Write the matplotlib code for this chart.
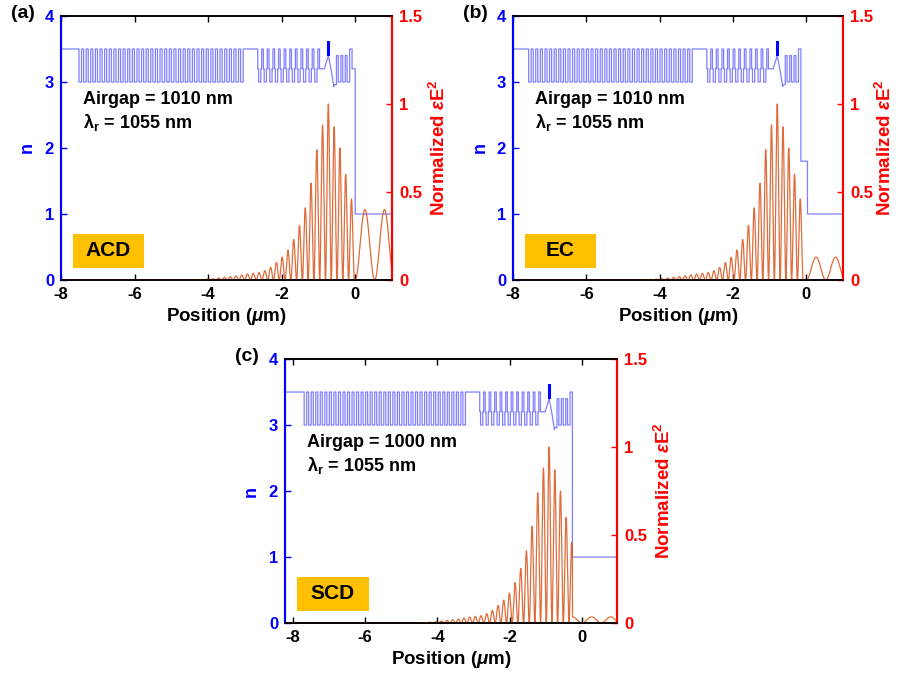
import numpy as np
import matplotlib
matplotlib.use("Agg")
import matplotlib.pyplot as plt
from matplotlib.patches import Rectangle

plt.rcParams['font.family'] = ['Liberation Sans', 'DejaVu Sans']
plt.rcParams['font.weight'] = 'bold'
plt.rcParams['axes.labelweight'] = 'bold'
plt.rcParams['axes.unicode_minus'] = False
plt.rcParams['mathtext.fontset'] = 'custom'
plt.rcParams['mathtext.rm'] = 'Liberation Sans:bold'
plt.rcParams['mathtext.bf'] = 'Liberation Sans:bold'
plt.rcParams['mathtext.it'] = 'Liberation Sans:italic'

# panel info
panel_names = ['(a)', '(b)', '(c)']
box_labels = ['ACD', 'EC', 'SCD']
airgaps = [1010, 1010, 1000]
lambda_r = 1055
x_limits = [(-8, 1), (-8, 1), (-8.22, 0.97)]
shifts = [0.0, -0.065, -0.18]          # structure offset vs panel (a), um

# refractive index structure of panel (a), positions in um
n_sub = 3.5
bottom_dbr = (-7.51, -2.99)
bottom_pairs = 36
bottom_n = [3.0, 3.5]
bottom_frac = [0.55, 0.45]
graded_dbr = (-2.65, -0.97)
graded_pairs = 11
graded_n = [3.2, 3.0, 3.2, 3.5]
graded_frac = [0.15, 0.4, 0.15, 0.3]
# (start, end, n_start, n_end)
upper_layers = [(-0.97, -0.84, 3.2, 3.2), (-0.84, -0.73, 3.2, 3.4), (-0.73, -0.66, 3.4, 3.2),
                (-0.66, -0.58, 3.2, 2.93), (-0.58, -0.51, 2.96, 2.96),
                (-0.51, -0.46, 3.4, 3.4), (-0.46, -0.39, 3.0, 3.0),
                (-0.39, -0.34, 3.4, 3.4), (-0.34, -0.27, 3.0, 3.0),
                (-0.27, -0.22, 3.4, 3.4), (-0.22, -0.15, 3.0, 3.0),
                (-0.15, -0.085, 3.5, 3.5)]
cap_layers = [[(-0.085, 0.0, 3.2, 3.2)], [(-0.085, 0.095, 1.8, 1.8)], []]
n_air = 1.0
qw_pos = -0.73
qw_n = (3.42, 3.6)

# normalized eps*E^2, peak heights from the cavity peak (k=0) outward
fringe_period = 0.157
peaks_out = [0.87, 0.75, 0.60, 0.46]                        # toward surface
peaks_in = [0.88, 0.74, 0.55, 0.41, 0.31, 0.23, 0.17, 0.13, 0.10, 0.072,
            0.053, 0.042, 0.038, 0.034, 0.028, 0.023, 0.019, 0.015, 0.011,
            0.007, 0.005, 0.003, 0.002, 0.001]              # into the DBR
air_amp = [0.40, 0.13, 0.035]
air_period = 0.53
field_end = [0.0, 0.095, -0.085]


def index_profile(shift, xl, caps):
    xs, ns = [], []

    def add(a, b, n1, n2):
        xs.extend([a + shift, b + shift])
        ns.extend([n1, n2])

    add(xl[0] - shift, bottom_dbr[0], n_sub, n_sub)
    p = (bottom_dbr[1] - bottom_dbr[0]) / bottom_pairs
    s = bottom_dbr[0]
    for i in range(bottom_pairs):
        for n, f in zip(bottom_n, bottom_frac):
            add(s, s + f * p, n, n)
            s += f * p
    add(bottom_dbr[1], graded_dbr[0], n_sub, n_sub)
    p = (graded_dbr[1] - graded_dbr[0]) / graded_pairs
    s = graded_dbr[0]
    for i in range(graded_pairs):
        for n, f in zip(graded_n, graded_frac):
            add(s, s + f * p, n, n)
            s += f * p
    for a, b, n1, n2 in upper_layers + caps:
        add(a, b, n1, n2)
    add(xs[-1] - shift, xl[1] - shift, n_air, n_air)
    return np.array(xs), np.array(ns)


def field_profile(x, shift, amp, end):
    xc = qw_pos + shift
    heights = [1.0] + peaks_out
    ks = list(range(len(heights)))
    heights += peaks_in
    ks += [-(i + 1) for i in range(len(peaks_in))]
    y = np.zeros_like(x)
    for k, h in zip(ks, heights):
        c = xc + k * fringe_period
        m = np.abs(x - c) < fringe_period / 2
        y[m] += h * np.cos(np.pi * (x[m] - c) / fringe_period) ** 2
    out = x > end + shift
    y[out] = amp * np.sin(np.pi * x[out] / air_period) ** 2
    return y


fig = plt.figure(figsize=(8.98, 6.75), dpi=100)
axes_pos = [[0.0679, 0.5852, 0.3686, 0.3911],
            [0.5713, 0.5852, 0.3675, 0.3911],
            [0.3174, 0.0770, 0.3697, 0.3911]]
right_label_x = [1.112, 1.097, 1.112]

for i in range(3):
    ax = fig.add_axes(axes_pos[i])
    ax2 = ax.twinx()
    xl = x_limits[i]

    xs, ns = index_profile(shifts[i], xl, cap_layers[i])
    ax.plot(xs, ns, color='#8080ff', lw=0.9, zorder=2)
    ax.plot([qw_pos + shifts[i]] * 2, qw_n, color='#0000ff', lw=2.2, zorder=3)

    x = np.linspace(xl[0], xl[1], 20000)
    ax2.plot(x, field_profile(x, shifts[i], air_amp[i], field_end[i]),
             color='#d95319', lw=0.9, alpha=0.85)

    ax.set_xlim(xl)
    ax.set_ylim(0, 4)
    ax2.set_ylim(0, 1.5)
    ax.set_xticks([-8, -6, -4, -2, 0])
    ax.set_yticks([0, 1, 2, 3, 4])
    ax2.set_yticks([0, 0.5, 1, 1.5])
    ax2.set_yticklabels(['0', '0.5', '1', '1.5'])

    ax.tick_params(axis='x', direction='in', top=True, length=4, width=1,
                   labelsize=12, pad=5, colors='black')
    ax.tick_params(axis='y', direction='in', length=4, width=1, labelsize=12,
                   pad=5, colors='blue')
    ax2.tick_params(axis='y', direction='in', length=4, width=1, labelsize=12,
                    pad=5, colors='red')
    for a in (ax, ax2):
        a.spines['left'].set_color('blue')
        a.spines['right'].set_color('red')
        a.spines['left'].set_linewidth(1.5)
        a.spines['right'].set_linewidth(1.5)
        a.spines['top'].set_linewidth(1.2)
        a.spines['bottom'].set_linewidth(1.2)

    ax.set_xlabel(r'Position ($\mu$m)', fontsize=13.5, labelpad=3)
    ax.set_ylabel('n', color='blue', fontsize=13)
    ax.yaxis.set_label_coords(-0.075, 0.5)
    ax2.set_ylabel(r'Normalized $\epsilon$E$^{\mathbf{2}}$', color='red', fontsize=13.5)
    ax2.yaxis.set_label_coords(right_label_x[i], 0.5)

    ax.text(0.066, 0.715, 'Airgap = %d nm' % airgaps[i], transform=ax.transAxes,
            fontsize=13, va='top')
    ax.text(0.066, 0.575, 'λ$_\\mathbf{r}$ = %d nm' % lambda_r, transform=ax.transAxes,
            fontsize=13, va='baseline')
    ax.add_patch(Rectangle((0.035, 0.045), 0.217, 0.13, transform=ax.transAxes,
                           facecolor='#ffc000', edgecolor='none', zorder=4))
    ax.text(0.1435, 0.11, box_labels[i], transform=ax.transAxes, fontsize=15,
            ha='center', va='center', zorder=5)

    p = axes_pos[i]
    fig.text(p[0] - 0.056, p[1] + p[3] + 0.016, panel_names[i], fontsize=14,
             va='top', ha='left')

fig.savefig('out.png', dpi=100)
